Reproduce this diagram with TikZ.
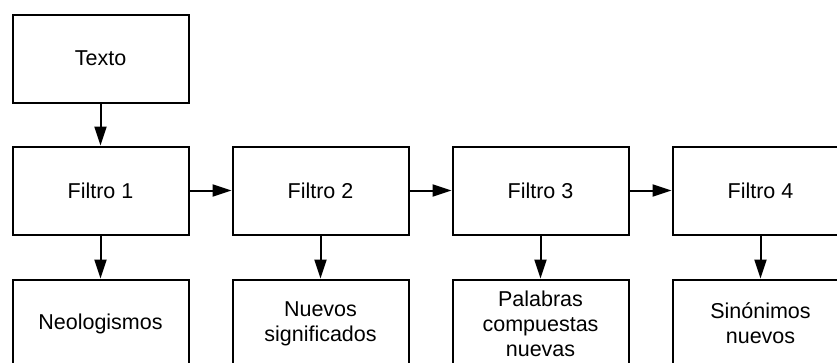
\documentclass[tikz,border=0pt]{standalone}
\usepackage{fontspec}
\setmainfont{Liberation Sans}
\usetikzlibrary{arrows.meta}
\tikzset{
  box/.style={draw=black, line width=2pt, minimum width=176pt, minimum height=88pt, inner sep=0pt, align=center, font=\fontsize{21.5pt}{25pt}\selectfont},
  conn/.style={line width=2pt, -{Triangle[length=19pt, width=12pt]}}
}
\begin{document}
\begin{tikzpicture}[x=1pt, y=-1pt]
\useasboundingbox (0,0) rectangle (837,362);
\clip (0,0) rectangle (837,362);
\node[box] (t) at (100.5,58.5) {Texto};
\node[box] (f1) at (100.5,190.5) {Filtro 1};
\node[box] (f2) at (320.5,190.5) {Filtro 2};
\node[box] (f3) at (540.5,190.5) {Filtro 3};
\node[box] (f4) at (760.5,190.5) {Filtro 4};
\node[box] (r1) at (100.5,323.5) {Neologismos};
\node[box] (r2) at (320.5,323.5) {Nuevos\\significados};
\node[box] (r3) at (540.5,323.5) {Palabras\\compuestas\\nuevas};
\node[box] (r4) at (760.5,323.5) {Sinónimos\\nuevos};
\draw[conn] (t) -- (f1);
\draw[conn] (f1) -- (f2);
\draw[conn] (f2) -- (f3);
\draw[conn] (f3) -- (f4);
\draw[conn] (f1) -- (r1);
\draw[conn] (f2) -- (r2);
\draw[conn] (f3) -- (r3);
\draw[conn] (f4) -- (r4);
\end{tikzpicture}
\end{document}
